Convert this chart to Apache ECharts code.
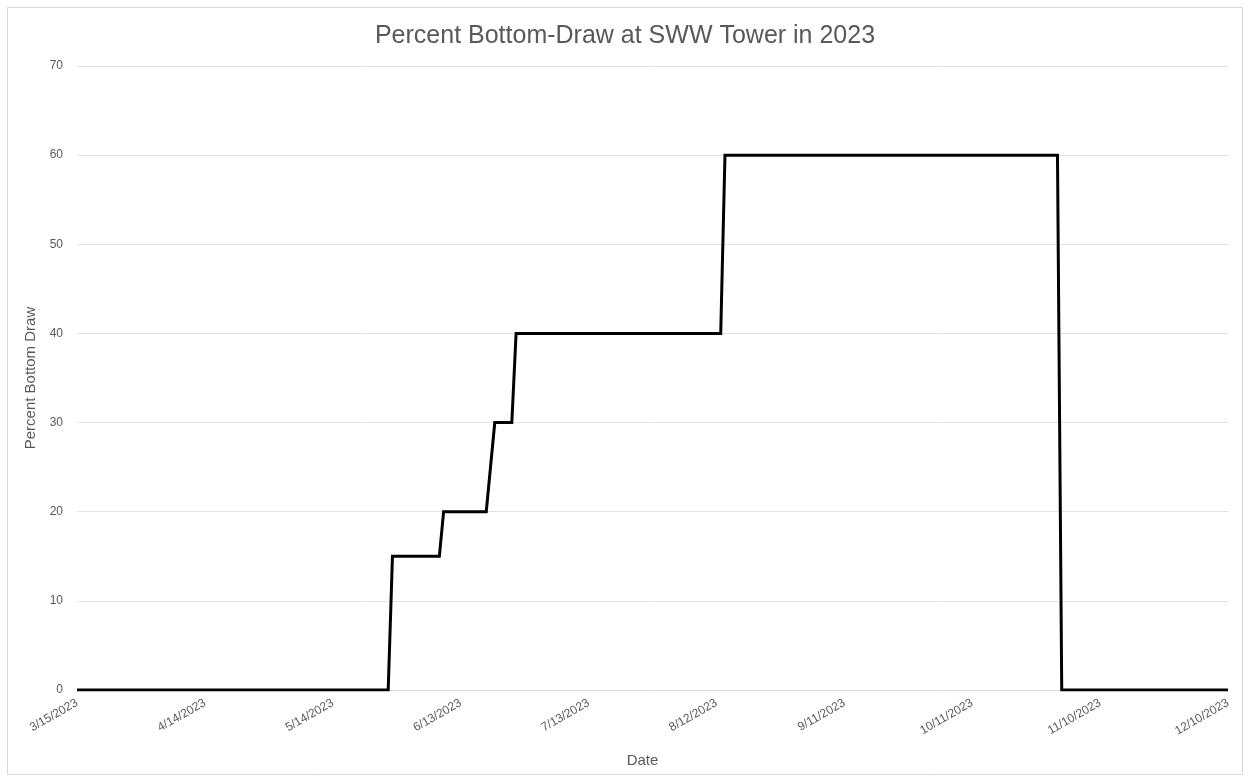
<!DOCTYPE html>
<html>
<head>
<meta charset="utf-8">
<title>Percent Bottom-Draw at SWW Tower in 2023</title>
<script src="https://cdn.jsdelivr.net/npm/echarts@6/dist/echarts.min.js"></script>
<style>
	html, body { margin: 0; padding: 0; background: #fff; }
	#chart-div { width: 1250px; height: 782px; }
</style>
</head>
<body>
<div id="chart-div"></div>
<script>
// 数据：日期与对应的底部取水百分比
var g_dates = [
	"3/15/2023", "5/27/2023", "5/28/2023", "6/8/2023", "6/9/2023",
	"6/19/2023", "6/21/2023", "6/25/2023", "6/26/2023", "8/13/2023",
	"8/14/2023", "10/31/2023", "11/1/2023", "12/10/2023"
];
var g_percent = [0, 0, 15, 15, 20, 20, 30, 30, 40, 40, 60, 60, 0, 0];

// 坐标轴范围
var g_start_date = "3/15/2023";
var g_end_date = "12/10/2023";
var g_y_ticks = [0, 10, 20, 30, 40, 50, 60, 70];

var DAY_MS = 86400000;

function parse_day(s) {
	var p = s.split("/");
	return Date.UTC(+p[2], +p[0] - 1, +p[1]) / DAY_MS;
}

var g_day0 = parse_day(g_start_date);

function fmt_day(v) {
	var d = new Date((g_day0 + v) * DAY_MS);
	return (d.getUTCMonth() + 1) + "/" + d.getUTCDate() + "/" + d.getUTCFullYear();
}

var g_series_data = g_dates.map(function (s, i) {
	return [parse_day(s) - g_day0, g_percent[i]];
});

var font = "Liberation Sans, Arial, sans-serif";

var option = {
	backgroundColor: "#fff",
	animation: false,
	title: {
		text: "Percent Bottom-Draw at SWW Tower in 2023",
		left: "center",
		top: 19,
		textStyle: {
			fontFamily: font,
			fontSize: 25,
			fontWeight: "normal",
			color: "#595959"
		}
	},
	graphic: [{
		type: "rect",
		shape: { x: 7.5, y: 7.5, width: 1235, height: 767 },
		style: { fill: "none", stroke: "#d9d9d9", lineWidth: 1 },
		silent: true
	}],
	grid: {
		left: 77,
		right: 22,
		top: 66,
		bottom: 92
	},
	xAxis: {
		type: "value",
		min: 0,
		max: parse_day(g_end_date) - g_day0,
		interval: 30,
		name: "Date",
		nameLocation: "middle",
		nameGap: 63,
		nameTextStyle: {
			fontFamily: font,
			fontSize: 15,
			color: "#595959",
			padding: [0, 20, 0, 0]
		},
		axisLine: { show: true, lineStyle: { color: "#dedede", width: 1 } },
		axisTick: { show: false },
		splitLine: { show: false },
		axisLabel: {
			rotate: 30,
			margin: 12,
			fontFamily: font,
			fontSize: 12,
			color: "#595959",
			formatter: fmt_day
		}
	},
	yAxis: {
		type: "value",
		min: g_y_ticks[0],
		max: g_y_ticks[g_y_ticks.length - 1],
		interval: 10,
		name: "Percent Bottom Draw",
		nameLocation: "middle",
		nameGap: 35,
		nameTextStyle: { fontFamily: font, fontSize: 15, color: "#595959" },
		axisLine: { show: false },
		axisTick: { show: false },
		splitLine: { lineStyle: { color: "#e3e3e3", width: 1 } },
		axisLabel: {
			margin: 14,
			fontFamily: font,
			fontSize: 12,
			color: "#595959"
		}
	},
	series: [{
		type: "line",
		data: g_series_data,
		showSymbol: false,
		lineStyle: { color: "#000", width: 3, join: "miter" },
		itemStyle: { color: "#000" }
	}]
};

var chart = echarts.init(document.getElementById("chart-div"));
chart.setOption(option);
window.addEventListener("resize", chart.resize);
</script>
</body>
</html>
